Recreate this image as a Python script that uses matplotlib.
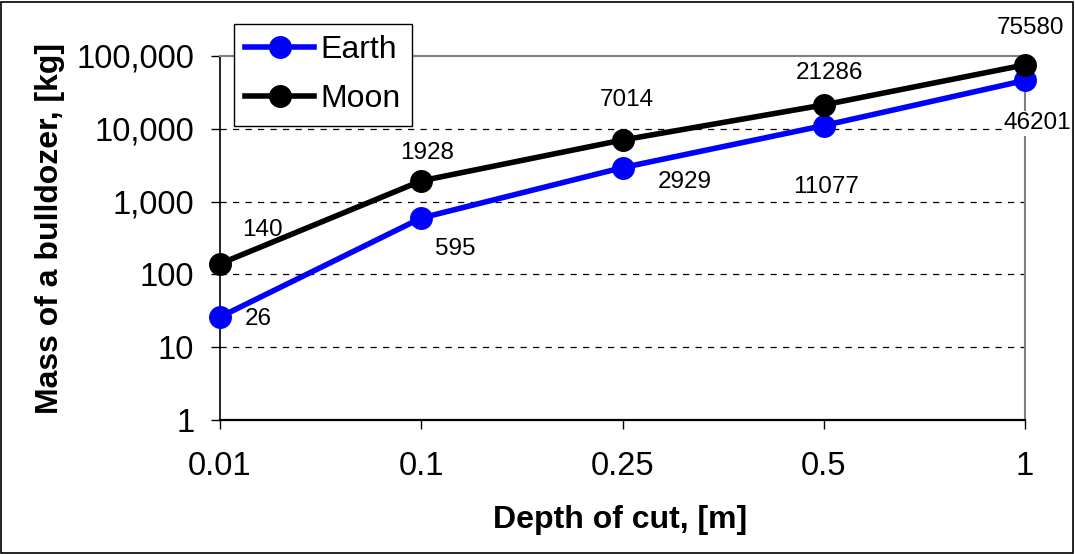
import matplotlib
matplotlib.use("Agg")
import matplotlib.pyplot as plt
from matplotlib.ticker import FuncFormatter, FixedLocator, NullLocator
from matplotlib.patches import Rectangle

depth_labels = ["0.01", "0.1", "0.25", "0.5", "1"]
earth = [26, 595, 2929, 11077, 46201]
moon = [140, 1928, 7014, 21286, 75580]
y_ticks = [1, 10, 100, 1000, 10000, 100000]

# label offsets (pixels) relative to each point
moon_off = [(42, 34), (6, 28), (4, 40), (6, 32), (5, 37)]
earth_off = [(38, -2), (34, -31), (62, -14), (2, -61), (12, -43)]

plt.rcParams['font.family'] = ['Liberation Sans', 'DejaVu Sans']

W, H = 1075, 554
fig = plt.figure(figsize=(W / 100, H / 100), dpi=100)
fig.patch.set_facecolor('white')
fig.patches.append(Rectangle((1 / W, 1 / H), 1 - 3 / W, 1 - 3 / H, transform=fig.transFigure,
                             fill=False, edgecolor='black', linewidth=1.2))

ax = fig.add_axes([220 / W, 1 - 420 / H, (1025 - 220) / W, (420 - 56) / H])
x = list(range(len(depth_labels)))

ax.set_yscale('log')
ax.set_ylim(1, 100000)
ax.set_xlim(0, len(depth_labels) - 1)

for yv in y_ticks[1:-1]:
    ax.axhline(yv, color='black', linewidth=0.9, linestyle=(0, (5, 5)), zorder=1)

ax.plot(x, earth, color='#0000FF', linewidth=4.0, marker='o', markersize=15.5,
        label='Earth', zorder=4, clip_on=False)
ax.plot(x, moon, color='black', linewidth=4.0, marker='o', markersize=15.5,
        label='Moon', zorder=5, clip_on=False)

for xi, v, (dx, dy) in zip(x, moon, moon_off):
    ax.annotate(str(v), (xi, v), xytext=(dx, dy), textcoords='offset pixels',
                ha='center', va='center', fontsize=17.5, zorder=3, annotation_clip=False,
                bbox=dict(facecolor='white', edgecolor='none', pad=1))
for xi, v, (dx, dy) in zip(x, earth, earth_off):
    ax.annotate(str(v), (xi, v), xytext=(dx, dy), textcoords='offset pixels',
                ha='center', va='center', fontsize=17.5, zorder=3, annotation_clip=False,
                bbox=dict(facecolor='white', edgecolor='none', pad=1))

ax.yaxis.set_major_locator(FixedLocator(y_ticks))
ax.yaxis.set_minor_locator(NullLocator())
ax.yaxis.set_major_formatter(FuncFormatter(lambda v, p: f"{int(round(v)):,}"))
ax.set_xticks(x)
ax.set_xticklabels(depth_labels)
ax.tick_params(axis='y', direction='out', length=6.5, width=1, pad=12, labelsize=23.5)
ax.tick_params(axis='x', direction='out', length=6.5, width=1, pad=16, labelsize=23.5)

for s in ['left', 'bottom']:
    ax.spines[s].set_color('black')
ax.spines['left'].set_linewidth(1.2)
ax.spines['bottom'].set_linewidth(1.6)
for s in ['top', 'right']:
    ax.spines[s].set_color('#808080')
    ax.spines[s].set_linewidth(1.5)
ax.spines['right'].set_zorder(2)

fig.text(620 / W, 1 - 520 / H, "Depth of cut, [m]", ha='center', va='center',
         fontsize=23, fontweight='bold')
fig.text(50 / W, 1 - 229 / H, "Mass of a bulldozer, [kg]", ha='center', va='center',
         fontsize=23, fontweight='bold', rotation=90)

leg = ax.legend(loc='upper left', bbox_to_anchor=(234 / W, 1 - 24 / H),
                bbox_transform=fig.transFigure, fontsize=23, frameon=True,
                fancybox=False, framealpha=1, edgecolor='black', borderaxespad=0,
                handlelength=2.15, handletextpad=0.2, borderpad=0.35, labelspacing=0.6)
leg.get_frame().set_linewidth(1.0)
leg.set_zorder(6)

fig.savefig("out.png", dpi=100, facecolor='white')
